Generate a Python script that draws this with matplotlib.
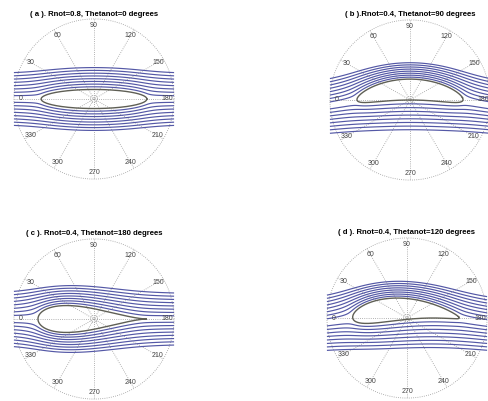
import numpy as np
import matplotlib.pyplot as plt

# panel titles and Joukowski circle parameters (zeta plane)
titles = [
    "( a ). Rnot=0.8, Thetanot=0 degrees",
    "( b ).Rnot=0.4, Thetanot=90 degrees",
    "( c ). Rnot=0.4, Thetanot=180 degrees",
    "( d ). Rnot=0.4, Thetanot=120 degrees",
]
circle_offset = [0.0, 0.24, 0.24, 0.24]
circle_offset_deg = [0, 90, 180, 120]
circle_radius = [1.2, 1.24, 1.24, 1.24]
psi_step = 0.12
n_lines = 8
angle_labels = [0, 30, 60, 90, 120, 150, 180, 210, 240, 270, 300, 330]

# layout (pixels)
W, H = 489, 401
centers_px = [(94, 99), (410, 100), (94, 319), (407, 318)]
title_y_px = [15, 15, 234, 232]
PX = 26.0      # pixels per unit
RC = 3.08      # outer ring / domain half width
HALF = 92      # axes half size in px

STREAM = "#5458a6"
BODY = "#5f5f55"
GRID = "#9a9a9a"


def to_zeta(z, mu, a):
    s = np.sqrt(z * z - 4 + 0j)
    z1 = (z + s) / 2
    z2 = (z - s) / 2
    pick = np.abs(z1 - mu) >= np.abs(z2 - mu)
    return np.where(pick, z1, z2)


fig = plt.figure(figsize=(W / 100, H / 100), dpi=100)

for i in range(4):
    cx, cy = centers_px[i]
    ax = fig.add_axes([(cx - HALF) / W, 1 - (cy + HALF) / H, 2 * HALF / W, 2 * HALF / H])
    lim = HALF / PX
    ax.set_xlim(-lim, lim)
    ax.set_ylim(-lim, lim)
    ax.axis("off")

    mu = circle_offset[i] * np.exp(1j * np.radians(circle_offset_deg[i]))
    a = circle_radius[i]
    gamma = 4 * np.pi * mu.imag   # Kutta condition

    # polar grid
    t = np.linspace(0, 2 * np.pi, 300)
    for r in [RC, 0.14]:
        ax.plot(r * np.cos(t), r * np.sin(t), color=GRID, lw=0.6, ls=(0, (1, 1.6)))
    for ang in range(0, 180, 30):
        th = np.radians(ang)
        ax.plot([-RC * np.cos(th), RC * np.cos(th)], [RC * np.sin(th), -RC * np.sin(th)],
                color=GRID, lw=0.6, ls=(0, (1, 1.6)))

    # stream function on the z plane
    x = np.linspace(-RC, RC, 500)
    y = np.linspace(-2.6, 2.6, 400)
    X, Y = np.meshgrid(x, y)
    zeta = to_zeta(X + 1j * Y, mu, a)
    zp = zeta - mu
    psi = np.imag(zp + a * a / zp) + gamma / (2 * np.pi) * np.log(np.abs(zp) / a)
    psi = np.ma.masked_where(np.abs(zp) < a, psi)
    levels = [psi_step * k for k in range(-n_lines, n_lines + 1) if k != 0]
    ax.contour(X, Y, psi, levels=levels, colors=STREAM, linewidths=0.85,
               linestyles="solid")

    # body outline
    zb = mu + a * np.exp(1j * t)
    zb = zb + 1 / zb
    ax.plot(zb.real, zb.imag, color=BODY, lw=1.0)

    # angle labels (0 at left, clockwise)
    for ang in angle_labels:
        th = np.radians(ang)
        r = RC * 0.92
        ax.text(-r * np.cos(th), r * np.sin(th), str(ang), fontsize=5, color="#444444",
                ha="center", va="center", family="Liberation Sans")

    fig.text(cx / W, 1 - title_y_px[i] / H, titles[i], fontsize=5.6, fontweight="bold",
             ha="center", va="center", family="Liberation Sans")

fig.savefig("out.png", dpi=100)
